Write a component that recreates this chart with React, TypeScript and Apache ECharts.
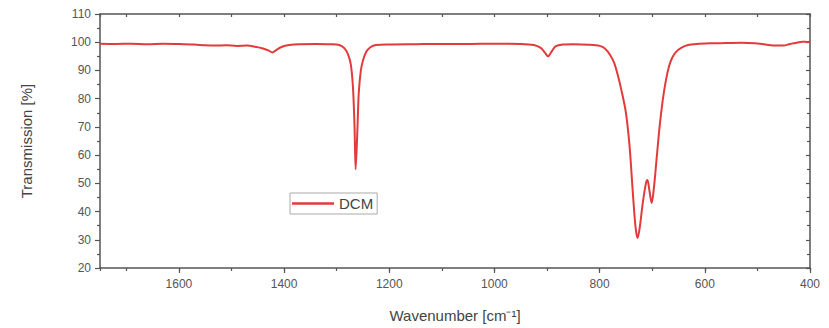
import React, { useEffect, useRef } from "react";
import * as echarts from "echarts";

const wavenumbers = [
  1750, 1720, 1690, 1660, 1630, 1600, 1570, 1550, 1530, 1510, 1490, 1470, 1455, 1440, 1430, 1422, 1415, 1405, 1390, 1370,
  1340, 1310, 1295, 1285, 1278, 1273, 1269, 1266, 1264, 1262, 1260, 1258, 1254, 1250, 1244, 1236, 1225, 1200, 1150, 1100,
  1050, 1000, 950, 925, 912, 904, 898, 892, 884, 870, 850, 820, 800, 790, 780, 772, 765, 758, 750, 743,
  737, 732, 728, 724, 718, 712, 709, 705, 701, 697, 692, 686, 680, 674, 668, 662, 655, 645, 632, 615,
  590, 560, 530, 505, 485, 465, 450, 438, 425, 415, 405, 400,
];
const transmission = [
  99.5, 99.4, 99.5, 99.3, 99.5, 99.4, 99.2, 98.9, 98.8, 98.9, 98.7, 98.8, 98.4, 97.8, 97.1, 96.4, 97.2, 98.3, 99.0, 99.3,
  99.4, 99.3, 99.0, 97.8, 95.5, 92.0, 84.0, 70.0, 55.0, 62.0, 72.0, 82.0, 90.0, 93.5, 96.5, 98.2, 99.0, 99.2, 99.3, 99.4,
  99.4, 99.5, 99.4, 99.0, 98.0, 96.3, 95.0, 96.5, 98.5, 99.2, 99.3, 99.1, 98.7, 97.8, 95.5, 92.5, 88.0, 82.5, 75.0, 63.0,
  47.0, 35.0, 30.6, 34.0, 43.0, 50.0, 51.2, 47.0, 43.0, 48.0, 58.0, 70.0, 79.5, 86.5, 91.5, 94.5, 96.5, 98.0, 99.0, 99.4,
  99.6, 99.7, 99.8, 99.6, 99.2, 98.8, 98.8, 99.4, 99.8, 100.2, 100.1, 100.3,
];
const seriesName = "DCM";
const xTitle = "Wavenumber [cm⁻¹]";
const yTitle = "Transmission [%]";

export default function App() {
  const ref = useRef<HTMLDivElement>(null);
  useEffect(() => {
    document.body.style.margin = "0";
    const chart = echarts.init(ref.current!, null, { renderer: "svg" });
    const font = "Liberation Sans, Arial, sans-serif";
    const axisColor = "#555";
    const common = { min: 400, max: 1750, inverse: true, type: "value" as const };
    chart.setOption({
      animation: false,
      backgroundColor: "#fff",
      grid: { left: 100, right: 19, top: 14, bottom: 60 },
      legend: {
        left: 290,
        top: 193,
        data: [seriesName],
        icon: "rect",
        itemWidth: 42,
        itemHeight: 2.5,
        itemGap: 4,
        borderColor: "#aaa",
        borderWidth: 1,
        borderRadius: 0,
        padding: [3, 4, 3, 2],
        textStyle: { fontFamily: font, fontSize: 15, color: "#444" },
      },
      xAxis: [
        {
          ...common,
          position: "bottom",
          interval: 200,
          name: xTitle,
          nameLocation: "middle",
          nameGap: 40,
          nameTextStyle: { fontFamily: font, fontSize: 15, color: "#444" },
          axisLine: { show: true, lineStyle: { color: axisColor, width: 1.5 } },
          axisTick: { show: true, length: 5, lineStyle: { color: axisColor, width: 1.2 } },
          axisLabel: {
            showMaxLabel: false,
            fontFamily: font,
            fontSize: 12,
            color: "#555",
            margin: 10,
            formatter: (v: number) => String(v),
          },
          splitLine: { show: false },
        },
        {
          ...common,
          position: "bottom",
          interval: 100,
          axisLine: { show: false },
          axisTick: { show: true, length: 3, lineStyle: { color: axisColor, width: 1.2 } },
          axisLabel: { show: false },
          splitLine: { show: false },
        },
        {
          ...common,
          position: "top",
          interval: 100,
          axisLine: { show: true, lineStyle: { color: axisColor, width: 1.5 } },
          axisTick: { show: true, inside: true, length: 3, lineStyle: { color: axisColor, width: 1.2 } },
          axisLabel: { show: false },
          splitLine: { show: false },
        },
      ],
      yAxis: [
        {
          type: "value",
          min: 20,
          max: 110,
          interval: 10,
          position: "left",
          name: yTitle,
          nameLocation: "middle",
          nameGap: 66,
          nameTextStyle: { fontFamily: font, fontSize: 15, color: "#444" },
          axisLine: { show: true, lineStyle: { color: axisColor, width: 1.5 } },
          axisTick: { show: true, length: 5, lineStyle: { color: axisColor, width: 1.2 } },
          minorTick: { show: true, splitNumber: 2, length: 3, lineStyle: { color: axisColor, width: 1.2 } },
          axisLabel: { fontFamily: font, fontSize: 12, color: "#555", margin: 9 },
          splitLine: { show: false },
        },
        {
          type: "value",
          min: 20,
          max: 110,
          interval: 10,
          position: "right",
          axisLine: { show: true, lineStyle: { color: axisColor, width: 1.5 } },
          axisTick: { show: true, inside: true, length: 4, lineStyle: { color: axisColor, width: 1.2 } },
          minorTick: { show: true, splitNumber: 2, length: 3, lineStyle: { color: axisColor, width: 1.2 } },
          axisLabel: { show: false },
          splitLine: { show: false },
        },
      ],
      series: [
        {
          name: seriesName,
          type: "line",
          xAxisIndex: 0,
          yAxisIndex: 0,
          data: wavenumbers.map((w, i) => [w, transmission[i]]),
          showSymbol: false,
          smooth: 0.3,
          lineStyle: { color: "#e23b3b", width: 2 },
          itemStyle: { color: "#e23b3b" },
        },
      ],
    });
    return () => chart.dispose();
  }, []);
  return <div ref={ref} style={{ width: 829, height: 328 }} />;
}
